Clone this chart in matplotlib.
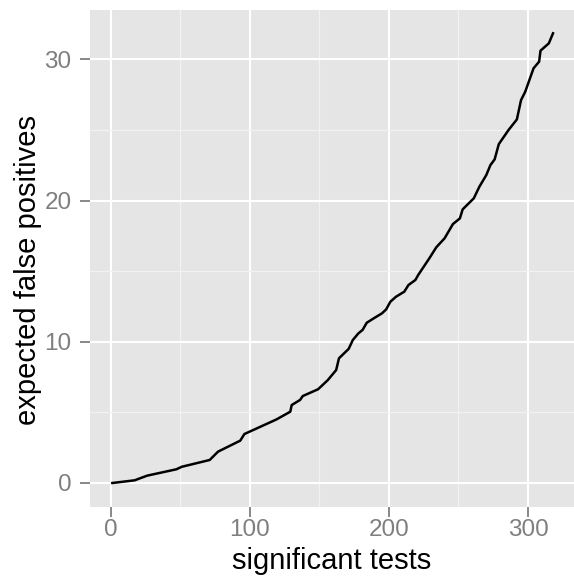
import numpy as np
import matplotlib
matplotlib.use("Agg")
import matplotlib.pyplot as plt
from matplotlib.ticker import MultipleLocator

# cumulative expected false positives vs number of significant tests
sig_tests = [1, 17, 26, 47, 51, 71, 77, 93, 96, 119,
             129, 130, 136, 138, 149, 156, 162, 164, 171, 174,
             178, 181, 184, 189, 195, 198, 201, 205, 211, 214,
             219, 221, 225, 229, 234, 240, 246, 251, 253, 261,
             265, 270, 273, 276, 279, 286, 292, 295, 298, 301,
             304, 308, 309, 315, 318]
exp_false_pos = [0.0, 0.19, 0.52, 0.97, 1.15, 1.63, 2.22, 3.0, 3.47, 4.5,
                 5.05, 5.52, 5.88, 6.16, 6.64, 7.29, 8.0, 8.83, 9.5, 10.13,
                 10.6, 10.84, 11.35, 11.66, 12.02, 12.3, 12.84, 13.19, 13.55, 14.02,
                 14.38, 14.73, 15.32, 15.91, 16.69, 17.33, 18.34, 18.74, 19.38, 20.16,
                 20.98, 21.81, 22.52, 22.92, 24.0, 25.0, 25.75, 27.12, 27.71, 28.54,
                 29.37, 29.84, 30.62, 31.14, 31.85]

x_ticks = [0, 100, 200, 300]
y_ticks = [0, 10, 20, 30]

plt.rcParams["font.family"] = ["Liberation Sans", "DejaVu Sans"]

W, H = 574, 579
fig = plt.figure(figsize=(W / 100, H / 100), dpi=100)
# panel spans x 90..574 px, y 10..507 px (from top)
ax = fig.add_axes([90 / W, 72 / H, 484 / W, 497 / H])

ax.set_facecolor("#E5E5E5")
ax.plot(sig_tests, exp_false_pos, color="black", linewidth=1.8, zorder=3)

ax.set_xlim(-15.1, 333.1)
ax.set_ylim(-1.7, 33.5)
ax.set_xticks(x_ticks)
ax.set_yticks(y_ticks)
ax.xaxis.set_minor_locator(MultipleLocator(50))
ax.yaxis.set_minor_locator(MultipleLocator(5))

ax.grid(which="major", color="white", linewidth=1.5)
ax.grid(which="minor", color="#F2F2F2", linewidth=0.9)
ax.set_axisbelow(True)

for s in ax.spines.values():
    s.set_visible(False)

ax.tick_params(which="major", length=7.2, width=1.3, color="#7F7F7F",
               labelcolor="#7F7F7F", labelsize=17.5)
ax.tick_params(axis="x", pad=1.5)
ax.tick_params(axis="y", pad=6)
ax.tick_params(which="minor", length=0)

ax.set_xlabel("significant tests", fontsize=21, va="baseline")
ax.xaxis.set_label_coords(0.5, (579 - 569 - 72) / 497)
ax.set_ylabel("expected false positives", fontsize=21, va="baseline")
ax.yaxis.set_label_coords((36 - 90) / 484, (579 - 270 - 72) / 497)

fig.savefig("out.png", dpi=100)
